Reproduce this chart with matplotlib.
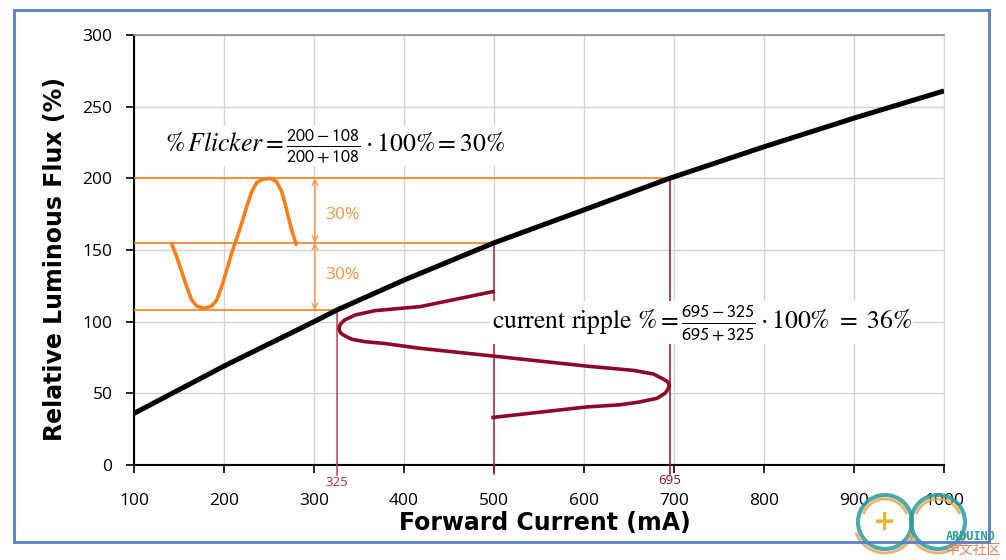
import matplotlib
matplotlib.use("Agg")
import matplotlib.pyplot as plt
from matplotlib.patches import Rectangle, Arc, Circle

plt.rcParams['mathtext.fontset'] = 'stix'

# ---- data ----
curve_x = [100, 200, 300, 325, 400, 500, 600, 695, 800, 900, 1000]
curve_y = [36, 69, 100, 108, 129, 155, 178, 200, 222, 242, 261]

flicker_x = [141.9, 147.4, 153.0, 158.5, 164.1, 169.6, 178.2, 186.3, 191.9, 197.4, 203.0,
             208.5, 213.3, 219.6, 225.2, 230.8, 236.3, 243.7, 251.1, 258.5, 264.1, 267.8,
             271.4, 275.2, 280.0]
flicker_y = [154.2, 145.3, 134.9, 124.4, 115.1, 110.9, 109.3, 110.9, 115.1, 124.4, 136.0,
             147.7, 156.5, 168.6, 180.2, 190.7, 197.0, 199.5, 200.0, 197.7, 190.7, 182.6,
             173.2, 164.0, 154.2]

ripple_x = [499, 418, 368, 346, 334, 329, 327.8, 329.5, 332.6, 342, 357, 377, 418, 499,
            603, 655, 677, 688, 693, 694.8, 693, 690, 681, 662, 640, 603, 499]
ripple_y = [121, 110.5, 107.7, 104.7, 101.2, 98, 94.7, 92.2, 90.7, 87.7, 86, 84.9, 81.4, 76,
            69, 66, 63.5, 60, 58, 55.5, 52.5, 50, 46.5, 44, 42, 40.5, 33.2]

i_low, i_mid, i_high = 325, 500, 695
flux_low, flux_mid, flux_high = 108, 155, 200

xticks = [100, 200, 300, 400, 500, 600, 700, 800, 900, 1000]
yticks = [0, 50, 100, 150, 200, 250, 300]

W, H = 1006, 560
fig = plt.figure(figsize=(W / 100, H / 100), dpi=100)
ax = fig.add_axes([134 / W, 1 - 465 / H, (944 - 134) / W, (465 - 35) / H])
ax.set_xlim(100, 1000)
ax.set_ylim(0, 300)
ax.set_xticks(xticks)
ax.set_yticks(yticks)
ax.grid(True, color='#d4d4d4', lw=1)
ax.set_axisbelow(True)
ax.spines['top'].set_color('#8c8c8c')
ax.spines['top'].set_linewidth(1.2)
ax.spines['right'].set_color('#d4d4d4')
for s in ['left', 'bottom']:
    ax.spines[s].set_color('black')
    ax.spines[s].set_linewidth(1.5)
ax.tick_params(direction='out', length=5.5, width=1.2, color='black', labelsize=12.5)
ax.tick_params(axis='x', pad=15)
ax.tick_params(axis='y', pad=10)
for lab in ax.get_xticklabels() + ax.get_yticklabels():
    lab.set_fontfamily('Open Sans')

ax.set_xlabel('Forward Current (mA)', fontsize=17, fontweight='bold')
ax.set_ylabel('Relative Luminous Flux (%)', fontsize=17, fontweight='bold')
ax.xaxis.set_label_coords(0.507, -0.108)
ax.yaxis.set_label_coords(-0.083, 0.478)

orange = '#f7801e'
light_orange = '#f79646'
# horizontal orange guide lines
ax.plot([100, i_high], [flux_high, flux_high], color=orange, lw=1.2, zorder=3)
ax.plot([100, i_mid], [flux_mid, flux_mid], color=orange, lw=1.2, zorder=3)
ax.plot([100, i_low + 2], [flux_low, flux_low], color=orange, lw=1.2, zorder=3)

# vertical red guide lines
ax.plot([i_low, i_low], [flux_low, -7], color='#c04055', lw=1.1, clip_on=False, zorder=3)
ax.plot([i_mid, i_mid], [flux_mid, -6], color='#a8283c', lw=1.1, clip_on=False, zorder=3)
ax.plot([i_high, i_high], [flux_high, -6], color='#8c1028', lw=1.1, clip_on=False, zorder=3)

# main curve
ax.plot(curve_x, curve_y, color='black', lw=3.6, zorder=5, solid_capstyle='butt')

# flicker wave
ax.plot(flicker_x, flicker_y, color=orange, lw=2.6, zorder=4)

# ripple wave
ax.plot(ripple_x, ripple_y, color='#8c0a28', lw=2.6, zorder=4, solid_joinstyle='round')

# double arrows
ax.annotate('', xy=(301, flux_high), xytext=(301, flux_mid),
            arrowprops=dict(arrowstyle='<->', color=light_orange, lw=1, shrinkA=0, shrinkB=0,
                            mutation_scale=10))
ax.annotate('', xy=(301, flux_mid), xytext=(301, flux_low),
            arrowprops=dict(arrowstyle='<->', color=light_orange, lw=1, shrinkA=0, shrinkB=0,
                            mutation_scale=10))
ax.text(312, 174.5, '30%', color=light_orange, fontsize=12.5, va='center', ha='left', family='Open Sans')
ax.text(312, 132.5, '30%', color=light_orange, fontsize=12.5, va='center', ha='left', family='Open Sans')

# formulas
ax.text(134.5, 222.5,
        r'$\%\,Flicker = \frac{\mathsf{200-108}}{\mathsf{200+108}}\cdot 100\% = 30\%$',
        fontsize=18.5, va='center', ha='left', zorder=6,
        bbox=dict(facecolor='white', edgecolor='none', pad=1))
ax.text(497.5, 99.5,
        r'$\mathrm{current\ ripple}\ \% = \frac{\mathsf{695-325}}{\mathsf{695+325}}\cdot 100\%\ =\ 36\%$',
        fontsize=18.5, va='center', ha='left', zorder=6,
        bbox=dict(facecolor='white', edgecolor='none', pad=1))

# small labels under axis
ax.text(i_low, -8, str(i_low), color='#b03048', fontsize=9.5, ha='center', va='top',
        family='Open Sans', clip_on=False)
ax.text(i_high, -6.5, str(i_high), color='#8c1028', fontsize=9.5, ha='center', va='top',
        family='Open Sans', clip_on=False)

# blue frame
fig.patches.append(Rectangle((14 / W, 1 - 542 / H), (989 - 14) / W, (542 - 10) / H,
                             transform=fig.transFigure, fill=False,
                             edgecolor='#5a80c0', lw=2))

# simplified watermark logo
lax = fig.add_axes([848 / W, 0, 158 / W, 70 / H])
lax.set_xlim(848, 1006)
lax.set_ylim(560, 490)
lax.set_axis_off()
lax.set_aspect('equal')
teal = '#2a9d9d'
for cx in (885, 938):
    lax.add_patch(Circle((cx, 522), 27, fill=False, edgecolor=teal, lw=3, alpha=0.85))
    lax.add_patch(Arc((cx, 522), 46, 46, theta1=200, theta2=340, edgecolor='#e8a23a', lw=2, alpha=0.8))
    lax.add_patch(Arc((cx, 522), 62, 62, theta1=20, theta2=160, edgecolor='#ee8a3a', lw=2, alpha=0.7))
lax.text(885, 522, '+', color='#e8b43a', fontsize=20, fontweight='bold', ha='center', va='center')
lax.text(946, 537, 'ARDUINO', color=teal, fontsize=8.5, fontweight='bold', ha='left', va='center',
         family='DejaVu Sans Mono')
lax.text(946, 550, '中文社区', color='#e8845a', fontsize=10, ha='left', va='center',
         family=['Noto Sans CJK SC', 'DejaVu Sans'])

fig.savefig('out.png', dpi=100)
